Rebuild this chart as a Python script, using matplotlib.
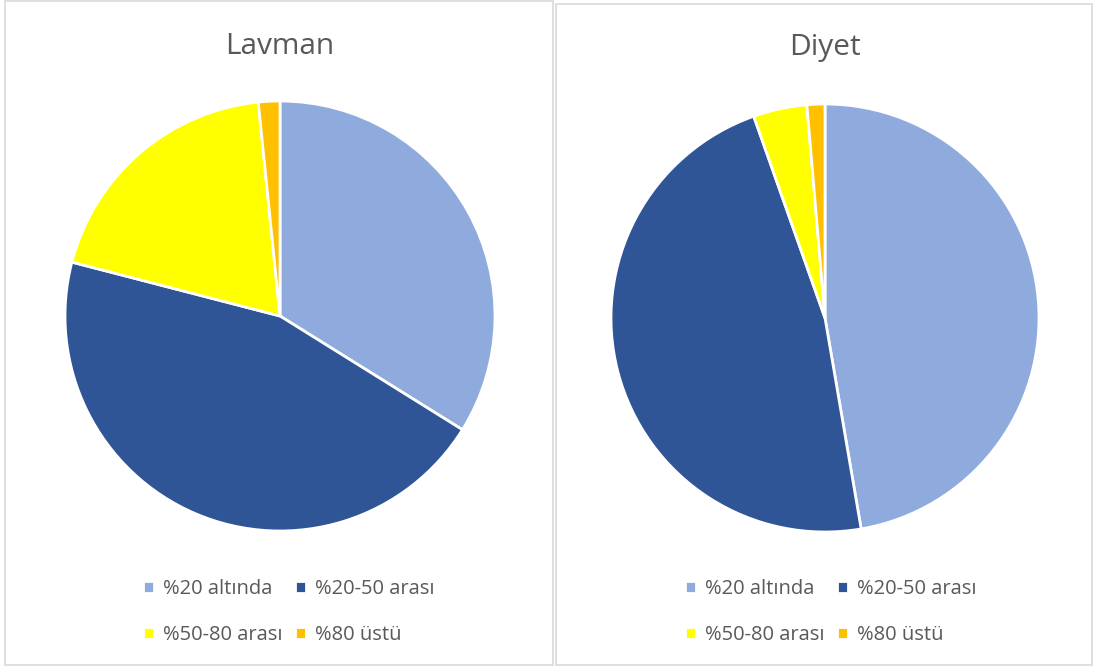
import matplotlib.pyplot as plt
from matplotlib.patches import Rectangle

plt.rcParams['font.family'] = ['Open Sans', 'DejaVu Sans']

# dilim etiketleri ve renkler
etiketler = ["%20 altında", "%20-50 arası", "%50-80 arası", "%80 üstü"]
renkler = ["#8FAADC", "#2F5597", "#FFFF00", "#FFC000"]

# hasta sayıları
lavman = [21, 28, 12, 1]
diyet = [35, 35, 3, 1]

fig = plt.figure(figsize=(10.93, 6.66), dpi=100)

# panel çerçeveleri
fig.patches.append(Rectangle((5/1093, 1/666), 548/1093, 664/666, transform=fig.transFigure,
                             facecolor="white", edgecolor="#D9D9D9", lw=1.2, zorder=-5))
fig.patches.append(Rectangle((556/1093, 1/666), 536/1093, 661/666, transform=fig.transFigure,
                             facecolor="white", edgecolor="#D9D9D9", lw=1.2, zorder=-5))


def pasta(konum, veri, baslik, baslik_x, leg_x):
    ax = fig.add_axes(konum)
    wedges, _ = ax.pie(veri, colors=renkler, startangle=90, counterclock=False,
                       wedgeprops=dict(edgecolor="white", linewidth=2))
    ax.set_xlim(-1, 1)
    ax.set_ylim(-1, 1)
    ax.set_aspect("equal")
    fig.text(baslik_x, 1 - 47/666, baslik, ha="center", va="center", fontsize=21.5, color="#595959")
    # legend satır satır dolsun diye sırayı değiştir
    sira = [0, 2, 1, 3]
    fig.legend([wedges[i] for i in sira], [etiketler[i] for i in sira], loc="upper left",
               bbox_to_anchor=(leg_x, 1 - 571/666), ncol=2,
               frameon=False, fontsize=14.5, handlelength=0.55, handleheight=0.55, handletextpad=0.45,
               columnspacing=0.6, labelspacing=1.3, labelcolor="#595959", borderaxespad=0)
    return ax


pasta([65/1093, 135/666, 430/1093, 430/666], lavman, "Lavman", 280/1093, 135/1093)
pasta([611/1093, 134/666, 428/1093, 428/666], diyet, "Diyet", 825/1093, 677/1093)

plt.savefig("out.png", dpi=100)
